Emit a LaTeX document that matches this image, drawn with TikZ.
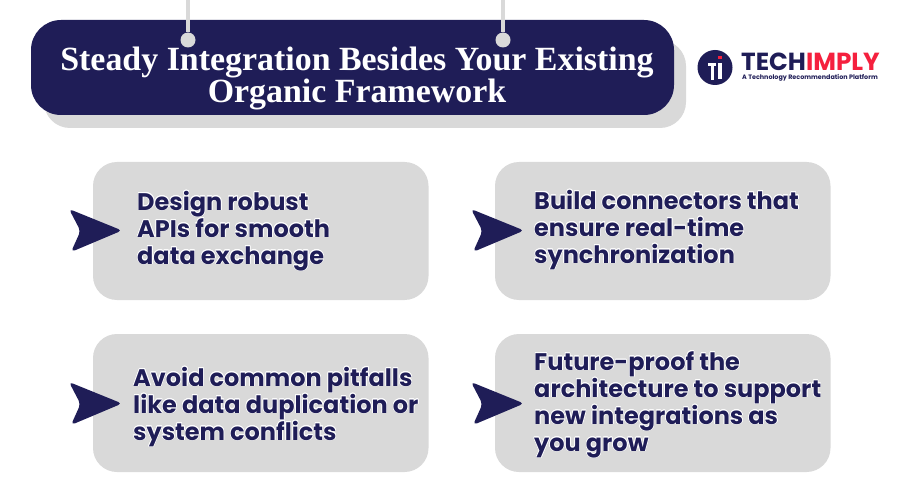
\documentclass[tikz,border=0pt]{standalone}
\usepackage{fontspec}
\usepackage[copies]{contour}
\contourlength{0.6pt}
\contournumber{16}
\setmainfont{Poppins}
\newfontfamily\serifbold{Liberation Serif}[BoldFont=Liberation Serif Bold]
\definecolor{navy}{HTML}{1F1D57}
\definecolor{panel}{HTML}{D9D9D9}
\definecolor{logored}{HTML}{F5203E}
\tikzset{
  x=1pt,y=-1pt,
  card/.style={fill=panel,rounded corners=24pt},
  cardtext/.style={anchor=west,align=left,text=navy,font=\fontsize{24}{27}\selectfont\bfseries,inner sep=0pt},
  pointer/.style={fill=navy,rounded corners=4pt},
  pin/.style={panel,line width=3.2pt},
  pinhead/.style={fill=panel},
}
\newcommand{\hl}[1]{\contour{white}{#1}}
\begin{document}
\begin{tikzpicture}
\useasboundingbox (0,0) rectangle (900,500);
\fill[fill=white] (0,0) rectangle (900,500);
% title
\fill[panel,rounded corners=26pt] (44,40) rectangle (686,128);
\fill[navy,rounded corners=30pt] (31,20) rectangle (674,115);
\coordinate (p1t) at (188,0);\coordinate (p2t) at (503,0);
\node[pinhead,circle,inner sep=0pt,minimum size=15pt] (p1) at (188,40) {};
\node[pinhead,circle,inner sep=0pt,minimum size=15pt] (p2) at (503,40) {};
\draw[pin] (p1t) -- (p1);
\draw[pin] (p2t) -- (p2);
\node[text=white,align=center,inner sep=0pt,font=\serifbold\fontsize{33.9}{31}\selectfont\bfseries] (title) at (357,78) {Steady Integration Besides Your Existing\\Organic Framework};
% logo
\node[circle,fill=navy,inner sep=0pt,minimum size=35pt] (logo) at (715,67.5) {};
\fill[white] (707.5,63.5) rectangle (716,66);
\fill[white] (710.5,63.5) rectangle (713.5,80);
\fill[white] (718,63.5) rectangle (721.5,79);
\fill[logored] (718,56) rectangle (721.5,59.5);
\node[anchor=base west,inner sep=0pt,font=\fontsize{24.7}{25}\selectfont\bfseries] (brand) at (741,70.5) {\textcolor{navy}{TECH}\textcolor{logored}{IMPLY}};
\node[anchor=west,inner sep=0pt,text=navy,font=\fontsize{6.4}{7}\selectfont\bfseries] (tag) at (742,77.5) {A Technology Recommendation Platform};
% cards
\fill[card] (93,162) rectangle (428.5,300);
\fill[card] (495,162) rectangle (830.5,300);
\fill[card] (93,334) rectangle (428.5,472);
\fill[card] (495,334) rectangle (830.5,472);
% pointers
\foreach \dx/\dy in {0/0,402/0,0/173,402/173}{
  \fill[pointer,shift={(\dx,\dy)}] (69,209) -- (122,230.5) -- (71,252) -- (80.5,231) -- cycle;
}
% card texts
\node[cardtext] (t1) at (137,231) {\hl{Design robust}\\\hl{APIs for smooth}\\\hl{data exchange}};
\node[cardtext] (t2) at (534,230) {\hl{Build connectors that}\\\hl{ensure real-time}\\\hl{synchronization}};
\node[cardtext] (t3) at (133,407) {\hl{Avoid common pitfalls}\\\hl{like data duplication or}\\\hl{system conflicts}};
\node[cardtext] (t4) at (534,405) {\hl{Future-proof the}\\\hl{architecture to support}\\\hl{new integrations as}\\\hl{you grow}};
\end{tikzpicture}
\end{document}
